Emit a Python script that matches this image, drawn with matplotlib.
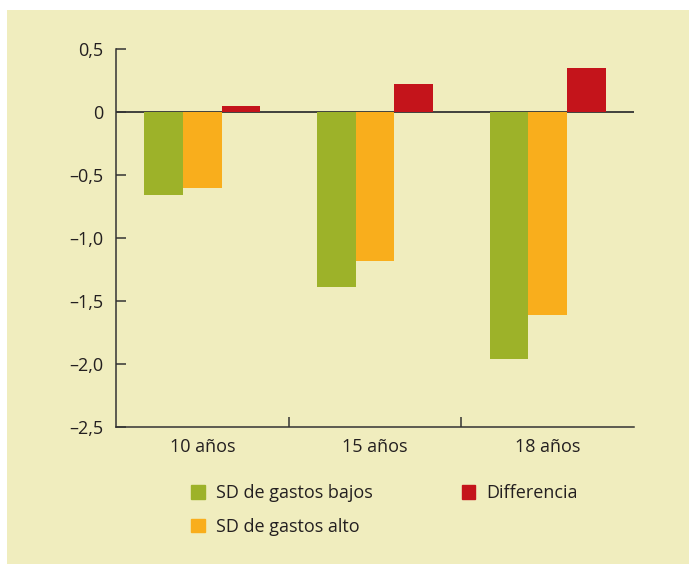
import matplotlib.pyplot as plt
import matplotlib.patches as mpatches
import numpy as np

# datos
grupos = ["10 años", "15 años", "18 años"]
sd_bajos = [-0.66, -1.39, -1.96]
sd_alto = [-0.60, -1.18, -1.61]
diferencia = [0.05, 0.22, 0.35]
series = ["SD de gastos bajos", "SD de gastos alto", "Differencia"]
colores = ["#9DB229", "#F9AE1C", "#C4141B"]
yticks = [0.5, 0, -0.5, -1.0, -1.5, -2.0, -2.5]

plt.rcParams['font.family'] = ['Open Sans', 'DejaVu Sans']
texto = "#231F20"
fondo = "#F0EDBE"
fs = 13

fig = plt.figure(figsize=(6.89, 5.64), dpi=100)
fig.patch.set_facecolor("white")
# panel crema
fig.patches.append(mpatches.Rectangle((7 / 689, 0), 1 - 7 / 689, 1 - 10 / 564,
                                      transform=fig.transFigure, facecolor=fondo,
                                      edgecolor="none", zorder=-5))

ax = fig.add_axes([116 / 689, (564 - 427) / 564, (634 - 116) / 689, (427 - 49) / 564])
ax.set_facecolor("none")

x = np.arange(len(grupos))
w = 0.224
ax.axhline(0, color="#333333", lw=1.3, zorder=1)
for i, (vals, col) in enumerate(zip([sd_bajos, sd_alto, diferencia], colores)):
    ax.bar(x + (i - 1) * w, vals, width=w, color=col, label=series[i], zorder=2)

ax.set_xlim(-0.5, 2.5)
ax.set_ylim(-2.5, 0.5)
ax.set_yticks(yticks)
ax.set_yticklabels([("0" if v == 0 else f"{v:.1f}".replace(".", ",").replace("-", "\u2013")) for v in yticks])
ax.set_xticks(x)
ax.set_xticklabels(grupos)
ax.set_xticks([0.5, 1.5], minor=True)

for s in ["top", "right"]:
    ax.spines[s].set_visible(False)
for s in ["left", "bottom"]:
    ax.spines[s].set_color("#333333")
    ax.spines[s].set_linewidth(1.1)

ax.tick_params(axis="y", direction="in", length=7.5, width=1.1, color="#333333",
               labelsize=fs, labelcolor=texto, pad=9)
ax.tick_params(axis="x", which="major", length=0, labelsize=fs, labelcolor=texto, pad=8)
ax.tick_params(axis="x", which="minor", direction="in", length=7.5, width=1.1, color="#333333")

handles = [mpatches.Patch(color=c, label=l) for c, l in zip(colores, series)]
fig.legend(handles=handles, loc="upper left", bbox_to_anchor=(175 / 689, 1 - 468 / 564),
           ncol=2, frameon=False, fontsize=fs, labelcolor=texto,
           handlelength=0.74, handleheight=0.74, handletextpad=0.65,
           columnspacing=4.9, labelspacing=0.85)

fig.savefig("out.png", dpi=100, facecolor=fig.get_facecolor())
